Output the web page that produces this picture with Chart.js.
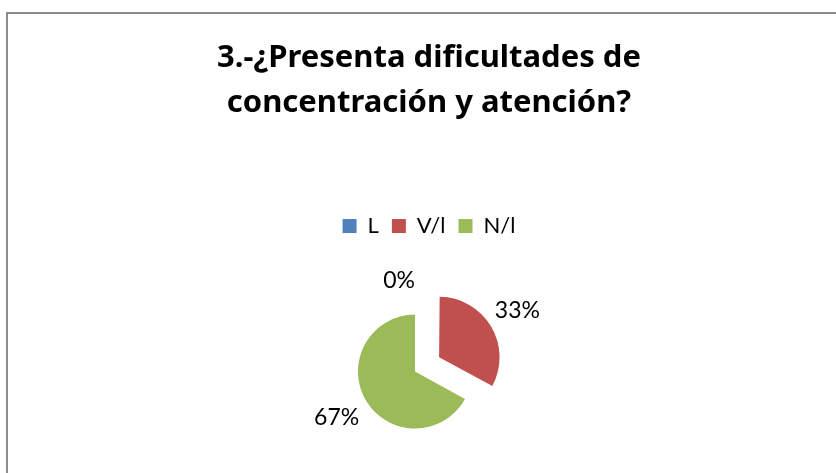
<!DOCTYPE html>
<html>
<head>
<meta charset="utf-8">
<script src="https://cdn.jsdelivr.net/npm/chart.js@4/dist/chart.umd.min.js"></script>
<style>
  html, body { margin: 0; padding: 0; background: #fff; overflow: hidden; width: 836px; height: 473px; }
  #wrap { position: absolute; left: 0; top: 0; width: 858px; height: 520px; }
</style>
</head>
<body>
<div id="wrap"><canvas id="c" width="858" height="520"></canvas></div>
<script>
const TITLE_LINES = ['3.-¿Presenta dificultades de', 'concentración y atención?'];
const CATEGORIES = ['L', 'V/l', 'N/l'];
const VALUES = [0, 33, 67];
const COLORS = ['#4F81BD', '#C0504D', '#9BBB59'];
const EXPLODE = [0, 112, 0];

const PLOT_SHIFT = -14;
const LABEL_GAP = 34;

const shiftPlot = {
  id: 'shiftPlot',
  afterLayout(chart) {
    chart.chartArea.left += PLOT_SHIFT;
    chart.chartArea.right += PLOT_SHIFT;
  }
};

const frame = {
  id: 'frame',
  beforeDraw(chart) {
    const ctx = chart.ctx;
    ctx.save();
    ctx.fillStyle = '#fff';
    ctx.fillRect(0, 0, chart.width, chart.height);
    ctx.strokeStyle = '#8c8c8c';
    ctx.lineWidth = 2;
    ctx.strokeRect(7, 13, chart.width - 14, chart.height - 26);
    ctx.restore();
  }
};

const pctLabels = {
  id: 'pctLabels',
  afterDatasetsDraw(chart) {
    const ctx = chart.ctx;
    const meta = chart.getDatasetMeta(0);
    const data = chart.data.datasets[0].data;
    const total = data.reduce((a, b) => a + b, 0);
    ctx.save();
    ctx.font = '23px Lato';
    ctx.fillStyle = '#000';
    ctx.textBaseline = 'middle';
    meta.data.forEach((arc, i) => {
      const p = arc.getProps(['x', 'y', 'startAngle', 'endAngle', 'outerRadius'], true);
      const mid = (p.startAngle + p.endAngle) / 2;
      const off = (arc.options.offset || 0) / 4;
      const dx = Math.cos(mid), dy = Math.sin(mid);
      const d = off + p.outerRadius + LABEL_GAP;
      const x = p.x + dx * d;
      const y = p.y + dy * d;
      ctx.textAlign = data[i] === 0 ? 'right' : 'center';
      ctx.fillText(Math.round(data[i] / total * 100) + '%', x, y);
    });
    ctx.restore();
  }
};

new Chart(document.getElementById('c'), {
  type: 'pie',
  data: {
    labels: CATEGORIES,
    datasets: [{
      data: VALUES,
      backgroundColor: COLORS,
      borderWidth: 0,
      offset: EXPLODE,
      hoverOffset: 0,
      radius: 57
    }]
  },
  options: {
    responsive: false,
    animation: false,
    events: [],
    layout: { padding: { top: 13, bottom: 24, left: 0, right: 0 } },
    plugins: {
      title: {
        display: true,
        text: TITLE_LINES,
        color: '#000',
        font: { family: 'Noto Sans', size: 31, weight: 'bold', lineHeight: 1.47 },
        padding: { top: 22, bottom: 75.9 }
      },
      legend: {
        display: true,
        position: 'top',
        labels: {
          boxWidth: 14,
          boxHeight: 14,
          padding: 13,
          color: '#000',
          font: { family: 'Lato', size: 22 }
        }
      },
      tooltip: { enabled: false }
    }
  },
  plugins: [frame, shiftPlot, pctLabels]
});
</script>
</body>
</html>
